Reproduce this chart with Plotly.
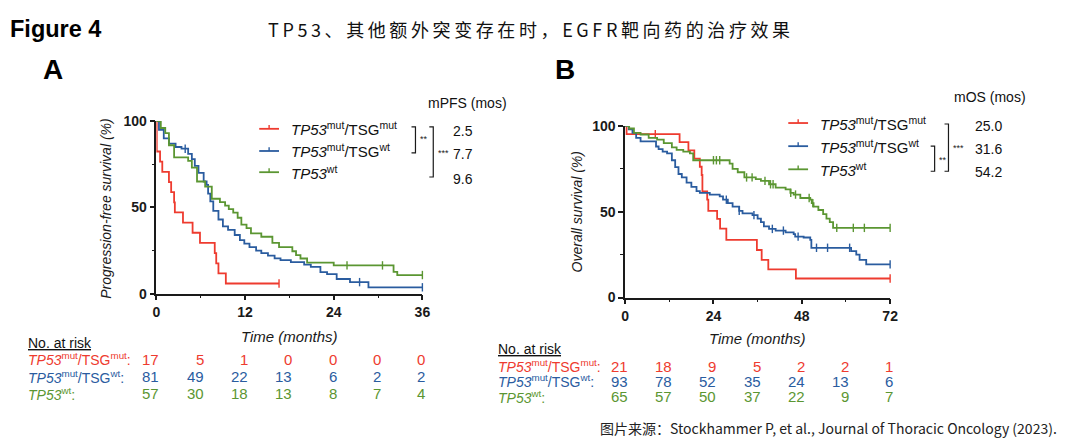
import plotly.graph_objects as go
import numpy as np

W, H = 1080, 447
OFF = 8  # page body margin in the browser

# ---------------- data ----------------
group_labels = ["<i>TP53</i><sup>mut</sup>/TSG<sup>mut</sup>",
                "<i>TP53</i><sup>mut</sup>/TSG<sup>wt</sup>",
                "<i>TP53</i><sup>wt</sup>"]
risk_labels = ["<i>TP53</i><sup>mut</sup>/TSG<sup>mut</sup>:",
               "<i>TP53</i><sup>mut</sup>/TSG<sup>wt</sup>:",
               "<i>TP53</i><sup>wt</sup>:"]

# Panel A: progression-free survival (%)
pfs_red_t = [0, 0.05, 0.5, 0.8, 1.7, 2.0, 2.4, 2.5, 3.6, 4.9, 5.9, 7.9, 8.1, 8.4, 9.4, 16.6]
pfs_red_s = [100, 82.4, 76.5, 70.6, 64.7, 58.8, 52.9, 47.1, 41.2, 35.3, 29.4, 23.5, 17.6, 11.8, 5.9, 5.9]
pfs_blue_t = [0, 0.35, 1.0, 1.7, 2.6, 3.4, 4.3, 4.8, 5.2, 5.7, 6.4, 6.8, 7.0, 7.3, 7.7, 8.4, 9.0, 9.7,
              10.6, 11.3, 11.9, 12.6, 13.5, 14.2, 15.1, 16.0, 16.8, 18.2, 20.0, 20.9, 22.2, 23.1,
              24.4, 26.2, 28.7, 36]
pfs_blue_s = [100, 95, 90, 87, 85, 84, 81, 78, 74, 70, 65, 63, 58, 53.5, 48, 43, 39, 37,
              34, 31, 29, 27, 25, 23.5, 22, 20.5, 19.5, 18.3, 16.8, 15.5, 12.5, 11.3,
              8.5, 6.7, 3.7, 3.7]
pfs_green_t = [0, 0.6, 1.2, 1.7, 2.4, 4.3, 4.8, 5.5, 6.6, 7.5, 8.6, 9.3, 9.8, 10.4, 11.0, 11.5,
               12.2, 12.8, 14.2, 15.7, 16.6, 18.4, 18.9, 19.5, 20.4, 24.0, 32.1, 32.6, 36]
pfs_green_s = [100, 96, 93, 86, 79, 77, 73, 65, 62, 55, 53, 51, 49, 47, 44, 40,
               38, 35, 33, 29.5, 27, 24.6, 22.3, 20.4, 18, 16.4, 12.6, 10.8, 10.8]
pfs_red_cens = [16.6]
pfs_blue_cens = [3.9, 27.5, 36]
pfs_green_cens = [25.8, 30.6, 36]

# Panel B: overall survival (%)
os_red_t = [0, 0.4, 14.8, 17.2, 18.8, 20.3, 20.8, 21.0, 22.3, 22.6, 25.0, 25.8, 27.5, 35.8, 37.1, 38.9, 46.4, 72]
os_red_s = [100, 95.2, 90.5, 85.7, 81.0, 76.2, 71.4, 61.9, 57.1, 50.5, 45.8, 40.2, 33.6, 27.7, 21.9, 16.4, 11.1, 11.1]
os_blue_t = [0, 1.0, 2.0, 3.0, 4.2, 8.4, 9.1, 10.2, 11.4, 12.7, 13.6, 14.5, 15.4, 16.7, 18.0, 19.4, 20.3,
             23.0, 25.7, 26.6, 27.9, 29.2, 31.0, 31.9, 34.6, 36.0, 36.9, 37.7, 39.1, 40.9, 43.6,
             45.8, 46.2, 48.5, 50.3, 50.6, 61.4, 62.8, 63.7, 65.5, 72]
os_blue_s = [100, 98, 96, 93, 91, 88, 86.5, 85, 84, 80, 76, 72, 70, 67, 64.5, 62, 61,
             60, 59, 57, 55, 53, 50.5, 49, 48, 46, 44, 41.5, 40, 39, 38,
             37, 35.5, 35, 33.6, 29, 27, 25, 22, 19.3, 19.3]
os_green_t = [0, 1.1, 2.4, 4.2, 6.4, 8.7, 10.5, 12.7, 14.0, 15.8, 17.6, 18.5, 28.4, 29.2, 30.6, 32.4,
              35.5, 36.9, 39.1, 40.9, 43.6, 44.9, 45.8, 47.6, 50.3, 50.7, 51.2, 52.5, 53.8, 54.7,
              55.6, 56.5, 72]
os_green_s = [100, 98.5, 96, 95, 93, 92, 90, 87.5, 86, 85, 84, 80, 78, 75, 73, 70,
              69, 68, 66, 64, 63, 61, 60, 58, 57, 55, 53, 51, 48.6, 46,
              44, 40.6, 40.6]
os_red_cens = [8.2, 72]
os_blue_cens = [27.5, 31, 35, 40, 43, 47, 52, 55, 61, 72]
os_green_cens = [24, 24.8, 25.7, 33, 34.5, 38, 39.5, 40.2, 45, 46.3, 50, 51, 57.5, 62, 65, 72]

# Numbers at risk
risk_A_times = [0, 6, 12, 18, 24, 30, 36]
risk_A_red = [17, 5, 1, 0, 0, 0, 0]
risk_A_blue = [81, 49, 22, 13, 6, 2, 2]
risk_A_green = [57, 30, 18, 13, 8, 7, 4]
risk_B_times = [0, 12, 24, 36, 48, 60, 72]
risk_B_red = [21, 18, 9, 5, 2, 2, 1]
risk_B_blue = [93, 78, 52, 35, 24, 13, 6]
risk_B_green = [65, 57, 50, 37, 22, 9, 7]

mpfs = ["2.5", "7.7", "9.6"]
mos = ["25.0", "31.6", "54.2"]

# ---------------- style ----------------
COLORS = ["#EE3B2F", "#2A5C9F", "#5B9632"]
FONT = "Liberation Sans"
CJK = "Noto Sans CJK SC"
AX = "#1a1a1a"


def px(x):
    return (x - OFF) / W


def py(y):
    return 1 - (y - OFF) / H


def step_at(t, s, x):
    idx = np.searchsorted(np.array(t), x, side="right") - 1
    return [s[i] for i in idx]


fig = go.Figure()

panelA = [(pfs_red_t, pfs_red_s, pfs_red_cens), (pfs_blue_t, pfs_blue_s, pfs_blue_cens),
          (pfs_green_t, pfs_green_s, pfs_green_cens)]
panelB = [(os_red_t, os_red_s, os_red_cens), (os_blue_t, os_blue_s, os_blue_cens),
          (os_green_t, os_green_s, os_green_cens)]

for axes, panel in (("x", panelA), ("x2", panelB)):
    yax = "y" if axes == "x" else "y2"
    for (t, s, c), col in zip(panel, COLORS):
        fig.add_trace(go.Scatter(x=t, y=s, mode="lines", line=dict(color=col, width=1.8, shape="hv"),
                                 xaxis=axes, yaxis=yax, cliponaxis=False, showlegend=False,
                                 hoverinfo="skip"))
        fig.add_trace(go.Scatter(x=c, y=step_at(t, s, c), mode="markers",
                                 marker=dict(symbol="line-ns", size=6, line=dict(color=col, width=1.4)),
                                 xaxis=axes, yaxis=yax, cliponaxis=False, showlegend=False,
                                 hoverinfo="skip"))

axis_common = dict(showline=True, linecolor=AX, linewidth=1.6, ticks="outside", ticklen=5,
                   tickwidth=1.6, tickcolor=AX, showgrid=False, zeroline=False,
                   tickfont=dict(family=FONT, size=14, color=AX, weight="bold"))
minor_common = dict(ticklen=3, tickwidth=1.4, tickcolor=AX, ticks="outside")

fig.update_layout(
    width=W, height=H, margin=dict(l=0, r=0, t=0, b=0),
    paper_bgcolor="white", plot_bgcolor="white",
    xaxis=dict(domain=[px(154), px(423)], range=[0, 36], tickvals=[0, 12, 24, 36],
               minor=dict(tickvals=[6, 18, 30], **minor_common), anchor="y", **axis_common),
    yaxis=dict(domain=[py(296), py(117)], range=[0, 100], tickvals=[0, 50, 100],
               minor=dict(tickvals=[25, 75], **minor_common), anchor="x", **axis_common),
    xaxis2=dict(domain=[px(628), px(896)], range=[0, 72], tickvals=[0, 24, 48, 72],
                minor=dict(tickvals=[12, 36, 60], **minor_common), anchor="y2", **axis_common),
    yaxis2=dict(domain=[py(300), py(122)], range=[0, 100], tickvals=[0, 50, 100],
                minor=dict(tickvals=[25, 75], **minor_common), anchor="x2", **axis_common),
)

ann = []
shapes = []


def text(x, y, t, size, color=AX, xanchor="center", yanchor="middle", family=FONT, angle=0, **kw):
    ann.append(dict(x=x, y=y, xref=kw.pop("xref", "paper"), yref=kw.pop("yref", "paper"), text=t,
                    showarrow=False, xanchor=xanchor, yanchor=yanchor, textangle=angle,
                    font=dict(family=family, size=size, color=color, weight=kw.pop("weight", "normal")),
                    **kw))


# headers
text(px(4), py(22), "Figure 4", 23.5, color="#000", xanchor="left", weight="bold")
title = "TP53、其他额外突变存在时，EGFR靶向药的治疗效果"
text(px(531), py(21), "\u2009".join(title), 18, color="#111", family=CJK)
text(px(37), py(64), "A", 28, color="#000", xanchor="left", weight="bold")
text(px(555), py(64), "B", 28, color="#000", xanchor="left", weight="bold")
footer = "图片来源：Stockhammer P, et al., Journal of Thoracic Oncology (2023)."
text(px(1067), py(435), footer, 14, color="#222", xanchor="right", family=CJK)

# axis titles
text(px(103), py(207), "<i>Progression-free survival (%)</i>", 14, angle=-90)
text(px(579), py(211), "<i>Overall survival (%)</i>", 14, angle=-90)
text(px(289), py(340), "<i>Time (months)</i>", 15)
text(px(762), py(342), "<i>Time (months)</i>", 15)

# legends
legA_y = [125, 148, 170]
legB_y = [119, 143, 167]
for (x0, ys) in ((258, legA_y), (793, legB_y)):
    for yy, col, lab in zip(ys, COLORS, group_labels):
        shapes.append(dict(type="line", xref="paper", yref="paper", x0=px(x0), x1=px(x0 + 20),
                           y0=py(yy), y1=py(yy), line=dict(color=col, width=1.8)))
        shapes.append(dict(type="line", xref="paper", yref="paper", x0=px(x0 + 10), x1=px(x0 + 10),
                           y0=py(yy), y1=py(yy - 4), line=dict(color=col, width=1.4)))
        text(px(x0 + 30), py(yy), lab, 15, color="#111", xanchor="left")

# median columns
text(px(469), py(98), "mPFS (mos)", 14, color="#111")
for yy, v in zip([127, 151, 177], mpfs):
    text(px(452), py(yy), v, 14, color="#111", xanchor="left")
text(px(997), py(92), "mOS (mos)", 14, color="#111")
for yy, v in zip([122, 146, 170], mos):
    text(px(980), py(yy), v, 14, color="#111", xanchor="left")


def bracket(x, y0, y1, arm=4):
    shapes.append(dict(type="path", xref="paper", yref="paper",
                       path=f"M {px(x - arm)} {py(y0)} L {px(x)} {py(y0)} L {px(x)} {py(y1)} L {px(x - arm)} {py(y1)}",
                       line=dict(color=AX, width=1.2)))


bracket(416, 123, 150)
text(px(419), py(136), "**", 9, xanchor="left")
bracket(434, 123, 175)
text(px(437), py(150), "***", 9, xanchor="left")
bracket(955, 120, 169)
text(px(958), py(145), "***", 9, xanchor="left")
bracket(941, 143, 169)
text(px(943), py(157), "**", 9, xanchor="left")

# numbers at risk
for lx, head_y, rows_y, axis, times, risks in (
        (22, 347, [364, 382, 400], "x", risk_A_times, [risk_A_red, risk_A_blue, risk_A_green]),
        (497, 353, [371, 387, 403], "x2", risk_B_times, [risk_B_red, risk_B_blue, risk_B_green])):
    text(px(lx), py(head_y), "<u>No. at risk</u>", 14, color="#111", xanchor="left")
    for yy, col, lab, vals in zip(rows_y, COLORS, risk_labels, risks):
        text(px(lx), py(yy), lab, 14, color=col, xanchor="left")
        for t, v in zip(times, vals):
            text(t, py(yy), str(v), 15, color=col, xanchor="right", xref=axis, xshift=5)

fig.update_layout(annotations=ann, shapes=shapes)
fig.write_html("out.html")
